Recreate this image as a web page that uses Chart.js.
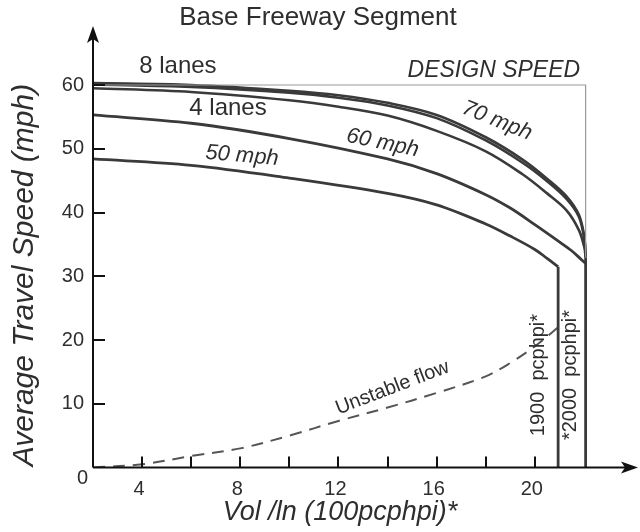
<!DOCTYPE html>
<html>
<head>
<meta charset="utf-8">
<script src="https://cdn.jsdelivr.net/npm/chart.js@4/dist/chart.umd.min.js"></script>
<style>
  html, body { margin: 0; padding: 0; background: #fff; }
  canvas { display: block; }
</style>
</head>
<body>
<canvas id="chart" width="640" height="532"></canvas>
<script>
// x ticks every 200 pcphpi, labels every 400
const xTicks = [4, 6, 8, 10, 12, 14, 16, 18, 20];
const xLabels = ["4", "", "8", "", "12", "", "16", "", "20"];
const yTicks = [10, 20, 30, 40, 50, 60];
const yLabels = ["10", "20", "30", "40", "50", "60"];

// speed-flow curves, [vol/ln (100pcphpi), speed (mph)]
const speed70a = [[2, 60.3], [6, 60], [10, 59.1], [12, 58.4], [14, 57.2], [16, 55.3], [18, 51.8], [19.5, 48.3], [20.5, 45.3], [21.3, 42.5], [21.8, 39.6], [22.02, 36], [22.07, 33]];
const speed70b = [[2, 60.1], [6, 59.7], [10, 58.8], [12, 58], [14, 56.8], [16, 54.8], [18, 51.3], [19.5, 47.8], [20.5, 44.9], [21.3, 42.1], [21.8, 39.3], [22.02, 35.7], [22.07, 33]];
const speed70c = [[2, 59.5], [6, 58.9], [10, 57.6], [12, 56.6], [14, 55.2], [16, 52.8], [18, 49.6], [19.5, 46], [20.5, 43], [21.3, 40.3], [21.8, 37.2], [22.02, 34.5], [22.07, 33]];
const speed60 = [[2, 55.3], [6, 54], [10, 51.6], [14, 48.4], [16, 46.1], [18, 42.8], [19, 40.7], [20, 38.1], [21, 35.4], [21.5, 34], [21.9, 32.6], [22.07, 32]];
const speed50 = [[2, 48.4], [6, 47.4], [10, 45.4], [14, 43], [16, 41.2], [18, 38.2], [19, 36.3], [20, 34.2], [20.5, 32.8], [20.95, 31.5]];
const cap1900 = [[20.95, 31.5], [20.95, 0]];
const cap2000 = [[22.07, 33], [22.07, 0]];
const unstable = [[2, 0], [4, 0.5], [6, 1.8], [8, 3.0], [10, 5], [12, 7.3], [14, 9.4], [16, 11.7], [18, 14.3], [19, 16.4], [20, 19], [20.95, 22]];
const designBox = [[2, 60], [22.07, 60], [22.07, 33]];

// text placed in data coordinates: [text, x, y, angle deg, font]
const notes = [
  ["8 lanes", 5.46, 62.9, 0, "24px"],
  ["4 lanes", 7.5, 56.4, 0, "24px"],
  ["DESIGN SPEED", 18.33, 62.2, 0, "italic 23px"],
  ["70 mph", 18.46, 54.4, 22, "italic 22px"],
  ["60 mph", 13.8, 50.9, 12, "italic 22px"],
  ["50 mph", 8.07, 48.9, 5, "italic 22px"],
  ["Unstable flow", 14.2, 12.5, -21, "20px"],
  ["1900  pcphpi*", 20.13, 14.5, -90, "20px"],
  ["*2000  pcphpi*", 21.47, 14.5, -90, "20px"]
];

const FONT = "'Liberation Sans', Arial, Helvetica, sans-serif";
const INK = "#2e2e2e";
const pts = a => a.map(p => ({ x: p[0], y: p[1] }));

function curve(data, width) {
  return {
    data: pts(data),
    borderColor: "#3a3a3a",
    borderWidth: width,
    pointRadius: 0,
    tension: 0.35,
    fill: false
  };
}

function straight(data, color, width) {
  return {
    data: pts(data),
    borderColor: color,
    borderWidth: width,
    pointRadius: 0,
    tension: 0,
    fill: false
  };
}

function arrow(ctx, x, y, dir) {
  ctx.beginPath();
  if (dir === "up") {
    ctx.moveTo(x, y);
    ctx.lineTo(x - 6, y + 17);
    ctx.lineTo(x, y + 13);
    ctx.lineTo(x + 6, y + 17);
  } else {
    ctx.moveTo(x, y);
    ctx.lineTo(x - 17, y - 6);
    ctx.lineTo(x - 13, y);
    ctx.lineTo(x - 17, y + 6);
  }
  ctx.closePath();
  ctx.fill();
}

const decor = {
  id: "decor",
  afterDraw(chart) {
    const ctx = chart.ctx;
    const xs = chart.scales.x, ys = chart.scales.y;
    const x0 = xs.getPixelForValue(2), y0 = ys.getPixelForValue(0);
    ctx.save();

    // axes with arrow heads
    ctx.strokeStyle = "#111";
    ctx.fillStyle = "#111";
    ctx.lineWidth = 2;
    ctx.beginPath();
    ctx.moveTo(x0, y0);
    ctx.lineTo(x0, 36);
    ctx.moveTo(x0, y0);
    ctx.lineTo(628, y0);
    ctx.stroke();
    arrow(ctx, x0, 26, "up");
    arrow(ctx, 638, y0, "right");

    // tick marks
    ctx.beginPath();
    xTicks.forEach(v => {
      const px = Math.round(xs.getPixelForValue(v));
      ctx.moveTo(px, y0);
      ctx.lineTo(px, y0 - 11);
    });
    yTicks.forEach(v => {
      const py = Math.round(ys.getPixelForValue(v));
      ctx.moveTo(x0, py);
      ctx.lineTo(x0 + 12, py);
    });
    ctx.stroke();

    // tick labels
    ctx.fillStyle = INK;
    ctx.font = "20px " + FONT;
    ctx.textBaseline = "middle";
    ctx.textAlign = "center";
    xTicks.forEach((v, i) => {
      if (xLabels[i]) ctx.fillText(xLabels[i], xs.getPixelForValue(v) - 3, y0 + 22);
    });
    ctx.textAlign = "right";
    yTicks.forEach((v, i) => ctx.fillText(yLabels[i], x0 - 9, ys.getPixelForValue(v)));
    ctx.fillText("0", x0 - 5, y0 + 11);

    // titles
    ctx.textAlign = "center";
    ctx.font = "26px " + FONT;
    ctx.fillText("Base Freeway Segment", 318, 18);
    ctx.font = "italic 27px " + FONT;
    ctx.fillText("Vol /ln (100pcphpi)*", 340, 512);
    ctx.save();
    ctx.translate(25, 275);
    ctx.rotate(-Math.PI / 2);
    ctx.font = "italic 30px " + FONT;
    ctx.fillText("Average Travel Speed (mph)", 0, 0);
    ctx.restore();

    // annotations
    notes.forEach(([text, x, y, ang, font]) => {
      ctx.save();
      ctx.translate(xs.getPixelForValue(x), ys.getPixelForValue(y));
      ctx.rotate(ang * Math.PI / 180);
      ctx.font = font + " " + FONT;
      ctx.fillText(text, 0, 0);
      ctx.restore();
    });

    ctx.restore();
  }
};

new Chart(document.getElementById("chart"), {
  type: "line",
  data: {
    datasets: [
      straight(designBox, "#9a9a9a", 1.2),
      curve(speed70a, 2.6),
      curve(speed70b, 2.6),
      curve(speed70c, 2.6),
      curve(speed60, 2.8),
      curve(speed50, 2.8),
      straight(cap1900, "#3a3a3a", 2.8),
      straight(cap2000, "#3a3a3a", 2.8),
      Object.assign(curve(unstable, 2), { borderColor: "#555", borderDash: [12, 8] })
    ]
  },
  options: {
    responsive: false,
    animation: false,
    devicePixelRatio: 1,
    layout: { padding: { left: 93, right: 7, top: 34, bottom: 64.5 } },
    plugins: { legend: { display: false }, tooltip: { enabled: false } },
    scales: {
      x: { type: "linear", min: 2, max: 24, display: false },
      y: { type: "linear", min: 0, max: 68, display: false }
    }
  },
  plugins: [decor]
});
</script>
</body>
</html>
